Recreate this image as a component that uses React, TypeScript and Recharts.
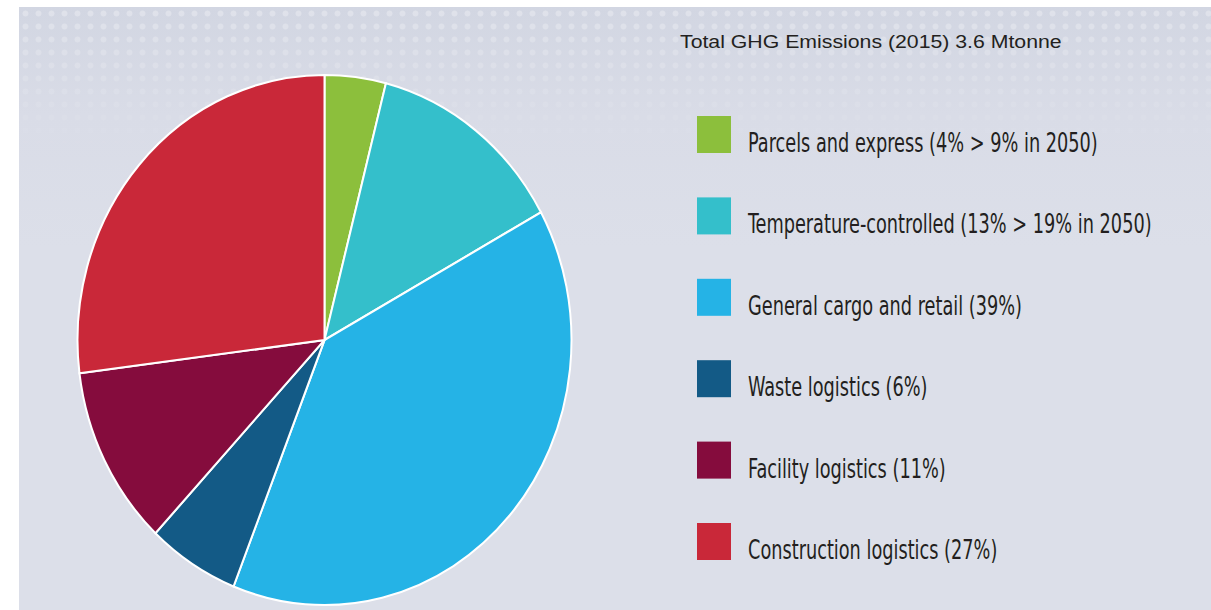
import { Cell, Legend, Pie, PieChart } from "recharts";

// Segment names as printed in the legend, in clockwise order from 12 o'clock
const categories = [
  "Parcels and express (4% > 9% in 2050)",
  "Temperature-controlled (13% > 19% in 2050)",
  "General cargo and retail (39%)",
  "Waste logistics (6%)",
  "Facility logistics (11%)",
  "Construction logistics (27%)",
];
// Share of total GHG emissions, 2015 (%)
const shares = [4, 13, 39, 6, 11, 27];
const colors = ["#8cbf3c", "#34bfcb", "#25b3e6", "#135a86", "#850c3d", "#c92839"];
const title = "Total GHG Emissions (2015) 3.6 Mtonne";

const data = categories.map((name, i) => ({ name, value: shares[i] }));

const FONT = "'DejaVu Sans Condensed', 'Liberation Sans', sans-serif";
const TEXT = "#231f20";

function renderLegend(props: any) {
  // keep the pie's own order (the legend would otherwise sort by name)
  const payload = [...(props.payload || [])].sort(
    (a: any, b: any) => categories.indexOf(a.value) - categories.indexOf(b.value)
  );
  return (
    <svg width={551} height={610} style={{ display: "block" }}>
      <text
        transform="translate(20 48) scale(1.15 1)"
        fontFamily="'Liberation Sans', sans-serif"
        fontSize={18.5}
        fill={TEXT}
      >
        {title}
      </text>
      {payload.map((entry: any, i: number) => (
        <g key={entry.value}>
          <rect x={37} y={116 + i * 81.4} width={34} height={37} fill={entry.color} />
          <text
            transform={`translate(88 ${152 + i * 81.4}) scale(0.73 1)`}
            fontFamily={FONT}
            fontSize={27}
            fill={TEXT}
          >
            {entry.value}
          </text>
        </g>
      ))}
    </svg>
  );
}

export default function App() {
  return (
    <div style={{ position: "absolute", left: 0, top: 0, width: 1211, height: 610, background: "#fff", overflow: "hidden" }}>
      <style>{`g.ghg-pie { transform-origin: 324.5px 340px; transform: scaleY(1.073); }`}</style>
      <div
        style={{
          position: "absolute",
          left: 19,
          top: 7,
          right: 0,
          bottom: 0,
          background: "linear-gradient(180deg, #d2d6e2 0%, #d9dce7 18%, #dcdfe9 40%, #dcdfe9 100%)",
        }}
      />
      <div
        style={{
          position: "absolute",
          left: 19,
          top: 7,
          right: 0,
          height: 150,
          backgroundImage: "radial-gradient(circle, rgba(255,255,255,0.3) 2.6px, transparent 3.4px)",
          backgroundSize: "13px 13px",
          WebkitMaskImage: "linear-gradient(180deg, rgba(0,0,0,1) 0%, rgba(0,0,0,0.5) 45%, rgba(0,0,0,0) 100%)",
          maskImage: "linear-gradient(180deg, rgba(0,0,0,1) 0%, rgba(0,0,0,0.5) 45%, rgba(0,0,0,0) 100%)",
        }}
      />
      <div style={{ position: "absolute", left: 0, top: 0 }}>
        <PieChart width={1211} height={610} margin={{ top: 0, right: 0, bottom: 0, left: 0 }}>
          <Pie
            className="ghg-pie"
            data={data}
            dataKey="value"
            nameKey="name"
            cx={324.5}
            cy={340}
            outerRadius={247}
            startAngle={90}
            endAngle={-270}
            stroke="#ffffff"
            strokeWidth={2}
            isAnimationActive={false}
          >
            {data.map((d, i) => (
              <Cell key={d.name} fill={colors[i]} />
            ))}
          </Pie>
          <Legend
            content={renderLegend}
            wrapperStyle={{ position: "absolute", left: 660, top: 0, width: 551, height: 610 }}
          />
        </PieChart>
      </div>
    </div>
  );
}
